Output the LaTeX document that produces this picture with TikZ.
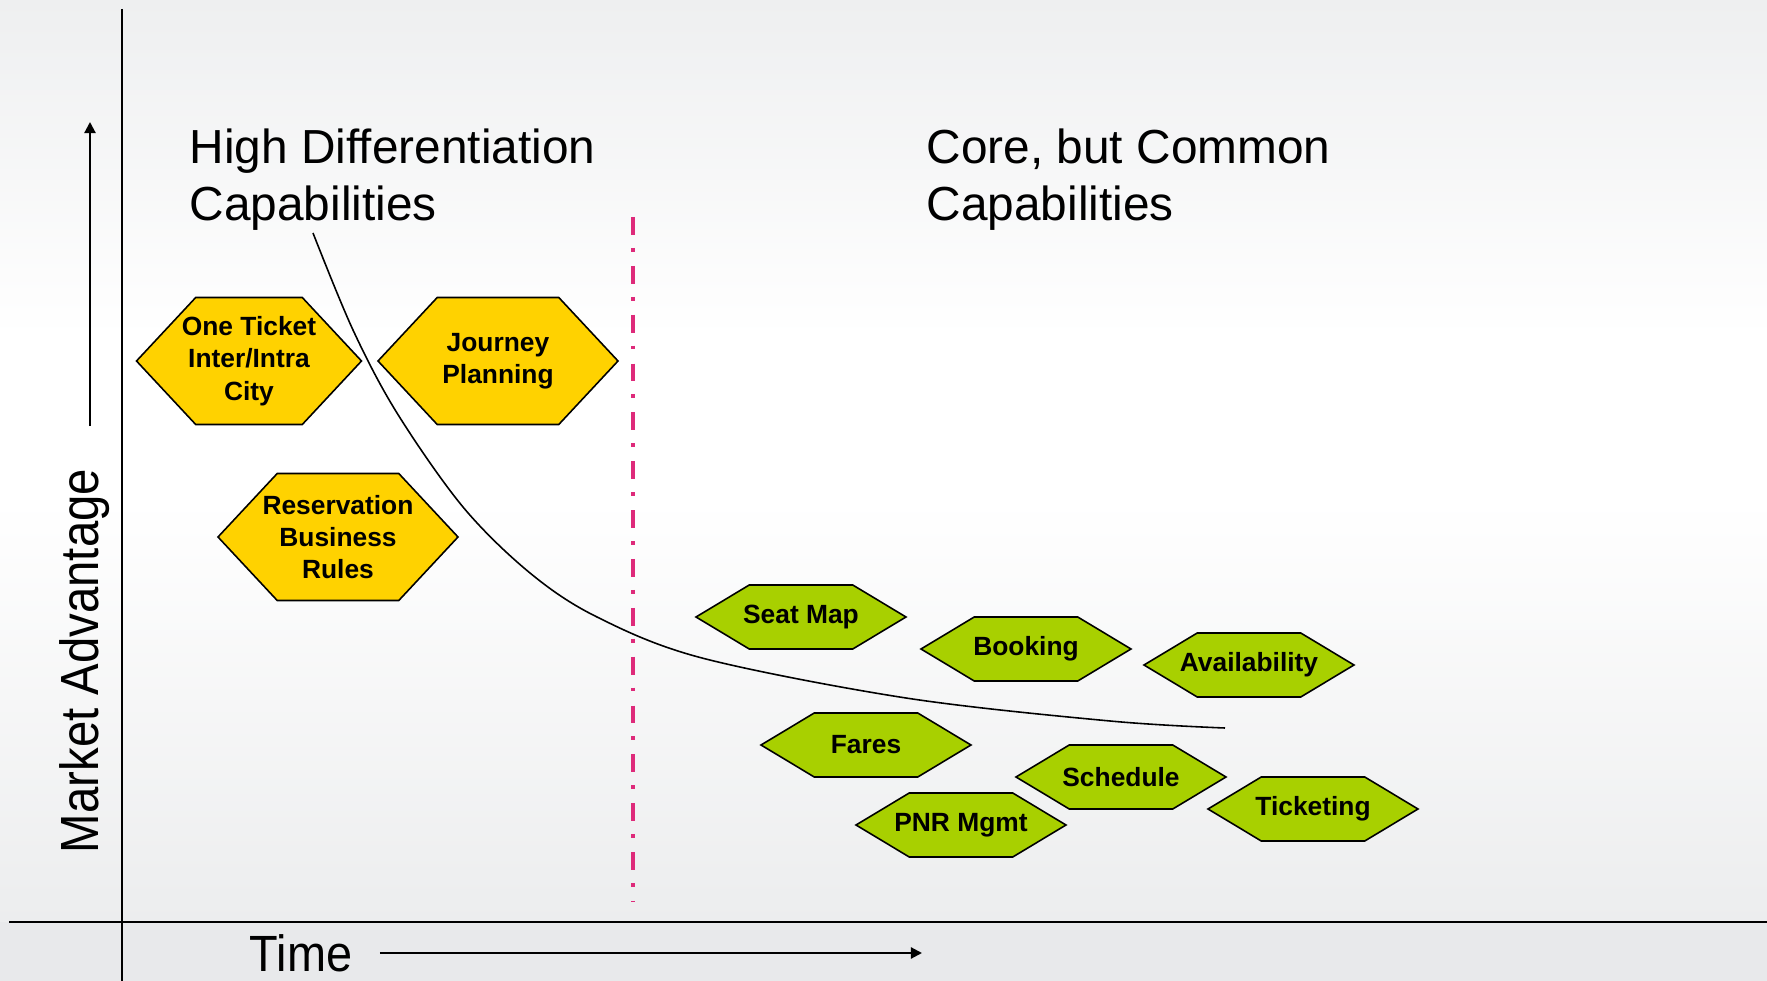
\documentclass[tikz,border=0pt]{standalone}
\usepackage{fontspec}
\setmainfont{Liberation Sans}
\newfontfamily\narrowfont[FakeStretch=0.88]{Liberation Sans}
\newfontfamily\timefont[FakeStretch=0.92]{Liberation Sans}
\usetikzlibrary{shapes.symbols,arrows.meta}
\definecolor{capyellow}{RGB}{255,210,0}
\definecolor{capgreen}{RGB}{168,208,0}
\definecolor{splitpink}{RGB}{222,42,122}
\definecolor{bgtop}{RGB}{238,239,240}
\definecolor{bglow}{RGB}{236,237,238}
\definecolor{bgfloor}{RGB}{232,233,235}
\pgfdeclareverticalshading{backdrop}{100bp}{color(0bp)=(bglow); color(28bp)=(bglow); color(49.5bp)=(white); color(57.8bp)=(white); color(75bp)=(bgtop); color(100bp)=(bgtop)}

\begin{document}
\begin{tikzpicture}[x=0.1mm, y=-0.1mm,
    hexnode/.style={signal, signal to=east and west, draw=black, line width=0.45pt, align=center, inner xsep=-25mm, inner ysep=0pt, font=\fontsize{7.5}{9.2}\selectfont\bfseries},
    highnode/.style={hexnode, fill=capyellow, minimum width=24mm, minimum height=12.7mm, signal pointer angle=94},
    corenode/.style={hexnode, fill=capgreen, minimum width=21mm, minimum height=6.4mm, signal pointer angle=62},
    heading/.style={align=left, inner sep=0pt, font=\fontsize{13.6}{16.2}\selectfont},
    axislabel/.style={inner sep=0pt, font=\narrowfont\fontsize{15.3}{18}\selectfont},
    axisarrow/.style={-{Triangle[length=3.2pt,width=3.2pt]}, line width=0.6pt}
]
\useasboundingbox (0,0) rectangle (1767,981);
\shade[shading=backdrop] (0,0) rectangle (1767,981);
\fill[bgfloor] (0,922) rectangle (1767,981);

% axes
\draw[line width=0.6pt] (122,9) -- (122,981);
\draw[line width=0.6pt] (9,922) -- (1767,922);

% axis labels
\node[axislabel, rotate=90] (market) at (85,661) {Market Advantage};
\coordinate (uptip) at (90,122);
\draw[axisarrow, shorten <=12pt] (uptip |- market.east) -- (uptip);
\node[axislabel, font=\timefont\fontsize{14.5}{17}\selectfont] (time) at (301,953) {Time};
\coordinate (timetip) at (922,953);
\draw[axisarrow, shorten <=7.7pt] (time.east) -- (timetip);

% headings
\node[heading, anchor=west] (high) at (189,180) {High Differentiation\\Capabilities};
\node[heading, anchor=west] (core) at (926,180) {Core, but Common\\Capabilities};

% split line
\draw[splitpink, line width=1.1pt, dash pattern=on 5.1pt off 3.7pt on 1.1pt off 4pt] (633,217) -- (633,902);

% curve
\draw[line width=0.45pt] plot[smooth, tension=0.55] coordinates {(313,233) (353,330) (397,413) (463,507) (530,573) (597,617) (702,658) (906,698) (1110,721) (1225,728)};

% high differentiation
\node[highnode, minimum width=22.5mm] (oneticket) at (249,361) {One Ticket\\Inter/Intra\\City};
\node[highnode] (journey) at (498,361) {Journey\\Planning};
\node[highnode] (reservation) at (338,537) {Reservation\\Business\\Rules};

% core capabilities
\node[corenode] (seatmap) at (801,617) {Seat Map};
\node[corenode] (booking) at (1026,649) {Booking};
\node[corenode] (availability) at (1249,665) {Availability};
\node[corenode] (fares) at (866,745) {Fares};
\node[corenode] (schedule) at (1121,777) {Schedule};
\node[corenode] (pnr) at (961,825) {PNR Mgmt};
\node[corenode] (ticketing) at (1313,809) {Ticketing};
\end{tikzpicture}
\end{document}
